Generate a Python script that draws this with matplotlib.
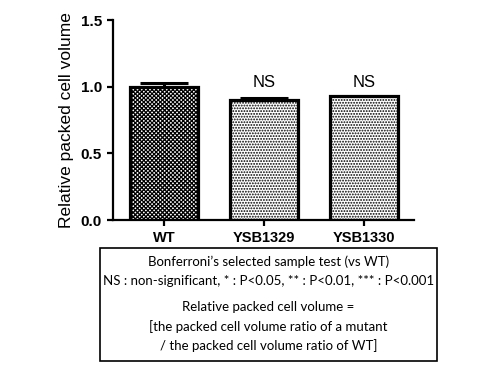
import numpy as np
import matplotlib
matplotlib.use("Agg")
import matplotlib.pyplot as plt
from matplotlib.patches import Rectangle

strains = ["WT", "YSB1329", "YSB1330"]
values = [1.00, 0.90, 0.93]
errors = [0.03, 0.015, 0.0]
marks = ["", "NS", "NS"]
mark_y = 0.975
hatches = ["xxxxxxxx", "......", "......"]
y_ticks = [0.0, 0.5, 1.0, 1.5]

note_lines = [
    "Bonferroni\u2019s selected sample test (vs WT)",
    "NS : non-significant, * : P<0.05, ** : P<0.01, *** : P<0.001",
    "Relative packed cell volume =",
    "[the packed cell volume ratio of a mutant",
    "/ the packed cell volume ratio of WT]",
]

plt.rcParams['font.family'] = ['Liberation Sans', 'DejaVu Sans']
plt.rcParams['hatch.linewidth'] = 0.9

fig = plt.figure(figsize=(4.8, 3.7), dpi=100)
ax = fig.add_axes([113/480, 1 - 220/370, (414-113)/480, 200/370])

x = np.arange(len(strains))
for i in range(len(strains)):
    ax.bar(x[i], values[i], width=0.68, color="white", edgecolor="black",
           linewidth=2.3, hatch=hatches[i], zorder=2)
    if errors[i] > 0:
        ax.errorbar(x[i], values[i], yerr=[[0], [errors[i]]], fmt="none",
                    ecolor="black", elinewidth=2.2, capsize=17, capthick=2.2, zorder=1)
    if marks[i]:
        ax.text(x[i], mark_y, marks[i], ha="center", va="bottom", fontsize=12)

ax.set_xlim(-0.51, 2.5)
ax.set_ylim(0, 1.5)
ax.set_xticks(x)
ax.set_xticklabels(strains, fontweight="bold", fontsize=10.5)
ax.set_yticks(y_ticks)
ax.set_yticklabels(["%.1f" % v for v in y_ticks], fontweight="bold", fontsize=11)
ax.set_ylabel("Relative packed cell volume", fontsize=12.5, labelpad=5)
for s in ["top", "right"]:
    ax.spines[s].set_visible(False)
for s in ["left", "bottom"]:
    ax.spines[s].set_linewidth(1.6)
ax.tick_params(axis="both", direction="out", width=1.6, length=4, pad=4)

# note box
bx0, bx1 = 100/480, 437/480
by0, by1 = 1 - 361/370, 1 - 248/370
fig.patches.append(Rectangle((bx0, by0), bx1 - bx0, by1 - by0, transform=fig.transFigure,
                             fill=False, edgecolor="black", linewidth=1.2))
line_y = [262, 281, 307, 327, 346]
for txt, yy in zip(note_lines, line_y):
    fig.text((bx0 + bx1) / 2, 1 - yy/370, txt, ha="center", va="center",
             fontsize=9.5, family=["Lato", "DejaVu Sans"])

fig.savefig("out.png", dpi=100)
